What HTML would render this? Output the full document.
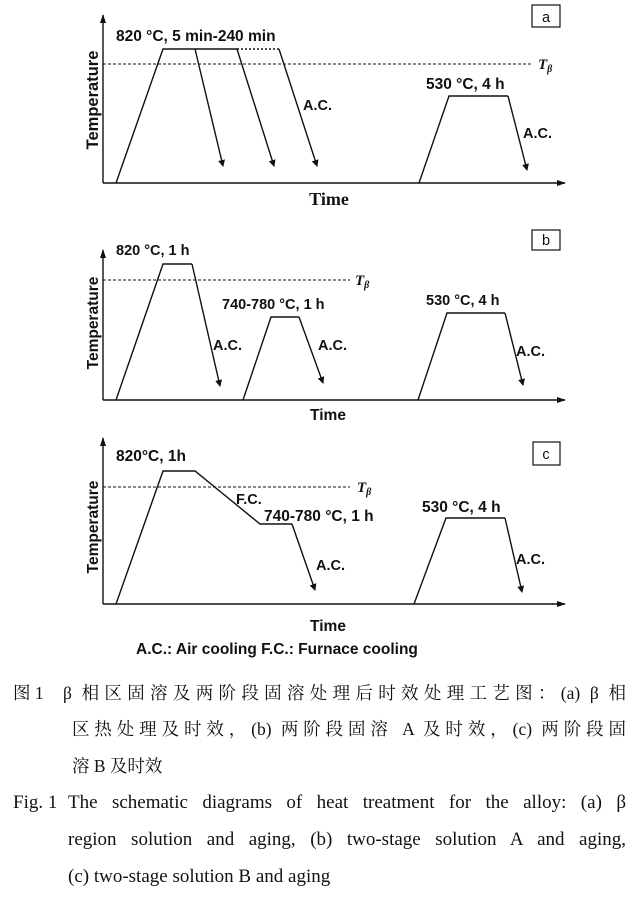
<!DOCTYPE html>
<html><head><meta charset="utf-8"><style>
body{margin:0;background:#fff;width:640px;height:911px;overflow:hidden;position:relative}
svg{position:absolute;left:0;top:0}
.s{font-family:"Liberation Sans",Arial,sans-serif;font-weight:bold;font-size:14.5px;fill:#111}
.cap{position:absolute;font-family:"Liberation Serif","Noto Serif CJK SC",serif;font-size:17.5px;color:#111;line-height:20px;white-space:nowrap}
.e{font-size:19px}
.j{text-align:justify;text-align-last:justify;white-space:normal}
</style></head><body>
<svg width="640" height="670" viewBox="0 0 640 670">
<defs><marker id="ar" markerWidth="8" markerHeight="8" refX="6" refY="4" orient="auto" markerUnits="userSpaceOnUse"><path d="M0,0.5 L7,4 L0,7.5 z" fill="#111"/></marker>
<marker id="ax" markerWidth="10" markerHeight="8" refX="8" refY="4" orient="auto" markerUnits="userSpaceOnUse"><path d="M0,1 L9,4 L0,7 z" fill="#111"/></marker></defs>
<g stroke="#111" stroke-width="1.4" fill="none">
<path d="M103,183 V15" marker-end="url(#ax)"/><path d="M103,183 H565" marker-end="url(#ax)"/>
<rect x="532" y="5" width="28" height="22" stroke-width="1.2"/>
<path d="M116,183 L163,49 H237"/><path d="M237,49 H279" stroke-dasharray="2,2"/>
<path d="M103,64 H533" stroke-dasharray="3,2" stroke-width="1.1"/>
<path d="M195,49 L223,166" marker-end="url(#ar)"/><path d="M237,49 L274,166" marker-end="url(#ar)"/><path d="M279,49 L317,166" marker-end="url(#ar)"/>
<path d="M419,183 L449,96 H508"/><path d="M508,96 L527,170" marker-end="url(#ar)"/>
<path d="M103,400 V250" marker-end="url(#ax)"/><path d="M103,400 H565" marker-end="url(#ax)"/>
<rect x="532" y="230" width="28" height="20" stroke-width="1.2"/>
<path d="M116,400 L163,264 H192"/><path d="M192,264 L220,386" marker-end="url(#ar)"/>
<path d="M103,280 H350" stroke-dasharray="3,2" stroke-width="1.1"/>
<path d="M243,400 L271,317 H299"/><path d="M299,317 L323,383" marker-end="url(#ar)"/>
<path d="M418,400 L447,313 H505"/><path d="M505,313 L523,385" marker-end="url(#ar)"/>
<path d="M103,604 V438" marker-end="url(#ax)"/><path d="M103,604 H565" marker-end="url(#ax)"/>
<rect x="533" y="442" width="27" height="23" stroke-width="1.2"/>
<path d="M116,604 L163,471 H195 L260,524 H292"/><path d="M292,524 L315,590" marker-end="url(#ar)"/>
<path d="M103,487 H350" stroke-dasharray="3,2" stroke-width="1.1"/>
<path d="M414,604 L446,518 H505"/><path d="M505,518 L522,592" marker-end="url(#ar)"/>
</g>
<g class="s">
<text x="546" y="22" text-anchor="middle" font-weight="normal">a</text>
<text x="116" y="41" font-size="15.5">820 °C, 5 min-240 min</text>
<text x="303" y="110">A.C.</text>
<text x="426" y="89" font-size="15.5">530 °C, 4 h</text>
<text x="523" y="138">A.C.</text>
<text x="329" y="205" text-anchor="middle" font-family="Liberation Serif,serif" font-size="18">Time</text>
<text transform="translate(98,100) rotate(-90)" text-anchor="middle" font-size="16.5">Temperature</text>
<text x="546" y="245" text-anchor="middle" font-weight="normal">b</text>
<text x="116" y="255">820 °C, 1 h</text>
<text x="213" y="350">A.C.</text>
<text x="222" y="309">740-780 °C, 1 h</text>
<text x="318" y="350">A.C.</text>
<text x="426" y="305">530 °C, 4 h</text>
<text x="516" y="356">A.C.</text>
<text x="328" y="420" text-anchor="middle" font-size="15.5">Time</text>
<text transform="translate(98,323) rotate(-90)" text-anchor="middle" font-size="15.5">Temperature</text>
<text x="546" y="459" text-anchor="middle" font-weight="normal">c</text>
<text x="116" y="461" font-size="15.5">820°C, 1h</text>
<text x="236" y="504">F.C.</text>
<text x="264" y="521" font-size="15.5">740-780 °C, 1 h</text>
<text x="316" y="570">A.C.</text>
<text x="422" y="512" font-size="15.5">530 °C, 4 h</text>
<text x="516" y="564">A.C.</text>
<text x="328" y="631" text-anchor="middle" font-size="15.5">Time</text>
<text transform="translate(98,527) rotate(-90)" text-anchor="middle" font-size="15.5">Temperature</text>
<text x="136" y="654" font-size="15.5">A.C.:  Air cooling  F.C.: Furnace cooling</text>
</g>
<g font-family="Liberation Serif,serif" font-weight="bold" font-style="italic" font-size="15" fill="#111">
<text x="538" y="69">T<tspan font-size="10" dy="3">β</tspan></text>
<text x="355" y="285">T<tspan font-size="10" dy="3">β</tspan></text>
<text x="357" y="492">T<tspan font-size="10" dy="3">β</tspan></text>
</g>
</svg>
<div class="cap" style="left:13px;top:683px">图 1</div>
<div class="cap j" style="left:63px;top:683px;width:563px">β 相区固溶及两阶段固溶处理后时效处理工艺图：(a) β 相</div>
<div class="cap j" style="left:72px;top:719px;width:554px">区热处理及时效，(b) 两阶段固溶 A 及时效，(c) 两阶段固</div>
<div class="cap" style="left:72px;top:756px">溶 B 及时效</div>
<div class="cap e" style="left:13px;top:793px">Fig. 1</div>
<div class="cap j e" style="left:68px;top:793px;width:558px">The schematic diagrams of heat treatment for the alloy: (a) β</div>
<div class="cap j e" style="left:68px;top:830px;width:558px">region solution and aging, (b) two-stage solution A and aging,</div>
<div class="cap e" style="left:68px;top:867px">(c) two-stage solution B and aging</div>
</body></html>
